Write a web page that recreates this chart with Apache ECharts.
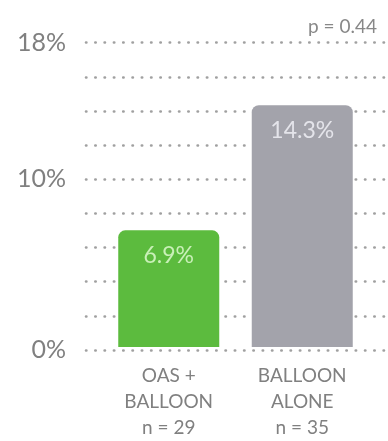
<!DOCTYPE html>
<html>
<head>
<meta charset="utf-8">
<style>
  html, body { margin: 0; padding: 0; background: #fff; }
  #chart { width: 388px; height: 441px; }
</style>
<script src="https://cdn.jsdelivr.net/npm/echarts@6/dist/echarts.min.js"></script>
</head>
<body>
<div id="chart"></div>
<script>
// Groups and event rates (%)
const categories = ['OAS +\nBALLOON\nn = 29', 'BALLOON\nALONE\nn = 35'];
const rates = [6.9, 14.3];
const barColors = ['#5cbb3e', '#a3a3ab'];
const labelColors = ['#c9f0b8', '#e4e4ea'];
const yTicksShown = [0, 10, 18];
const pValueText = 'p = 0.44';

const FONT = 'Lato, "Open Sans", sans-serif';

const chart = echarts.init(document.getElementById('chart'), null, { renderer: 'canvas' });

chart.setOption({
  animation: false,
  title: {
    text: pValueText,
    right: 6,
    top: 12,
    textStyle: { fontFamily: FONT, fontSize: 19, fontWeight: 'normal', color: '#888' }
  },
  grid: [
    // full-width grid carrying the dotted guide lines and the % labels
    { left: 86, right: 0, top: 42.7, bottom: 91 },
    // narrower grid holding the bars and group labels
    { left: 102, right: 19, top: 42.7, bottom: 91 }
  ],
  xAxis: [
    { type: 'category', gridIndex: 0, data: ['', ''], show: false },
    {
      type: 'category',
      gridIndex: 1,
      data: categories,
      axisLine: { show: false },
      axisTick: { show: false },
      axisLabel: {
        margin: 16,
        fontFamily: FONT,
        fontSize: 19,
        lineHeight: 26,
        color: '#808080',
        align: 'center'
      }
    }
  ],
  yAxis: [
    {
      type: 'value',
      gridIndex: 0,
      min: 0,
      max: 18,
      interval: 2,
      axisLine: { show: false },
      axisTick: { show: false },
      splitLine: {
        show: true,
        lineStyle: { color: '#a0a0a0', width: 2.6, cap: 'round', type: [0.4, 8.9] }
      },
      axisLabel: {
        margin: 20,
        fontFamily: FONT,
        fontSize: 25,
        color: '#808080',
        formatter: function (v) {
          return yTicksShown.indexOf(v) >= 0 ? v + '%' : '';
        }
      }
    },
    {
      type: 'value',
      gridIndex: 1,
      min: 0,
      max: 18,
      interval: 2,
      show: false,
      splitLine: { show: false }
    }
  ],
  series: [
    {
      type: 'bar',
      xAxisIndex: 1,
      yAxisIndex: 1,
      barWidth: 101,
      data: rates.map(function (v, i) {
        return {
          value: v,
          itemStyle: { color: barColors[i], borderRadius: [7, 7, 0, 0] },
          label: { color: labelColors[i] }
        };
      }),
      label: {
        show: true,
        position: 'insideTop',
        distance: 14,
        fontFamily: FONT,
        fontSize: 23,
        formatter: function (p) { return p.value.toFixed(1) + '%'; }
      }
    }
  ]
});
</script>
</body>
</html>
